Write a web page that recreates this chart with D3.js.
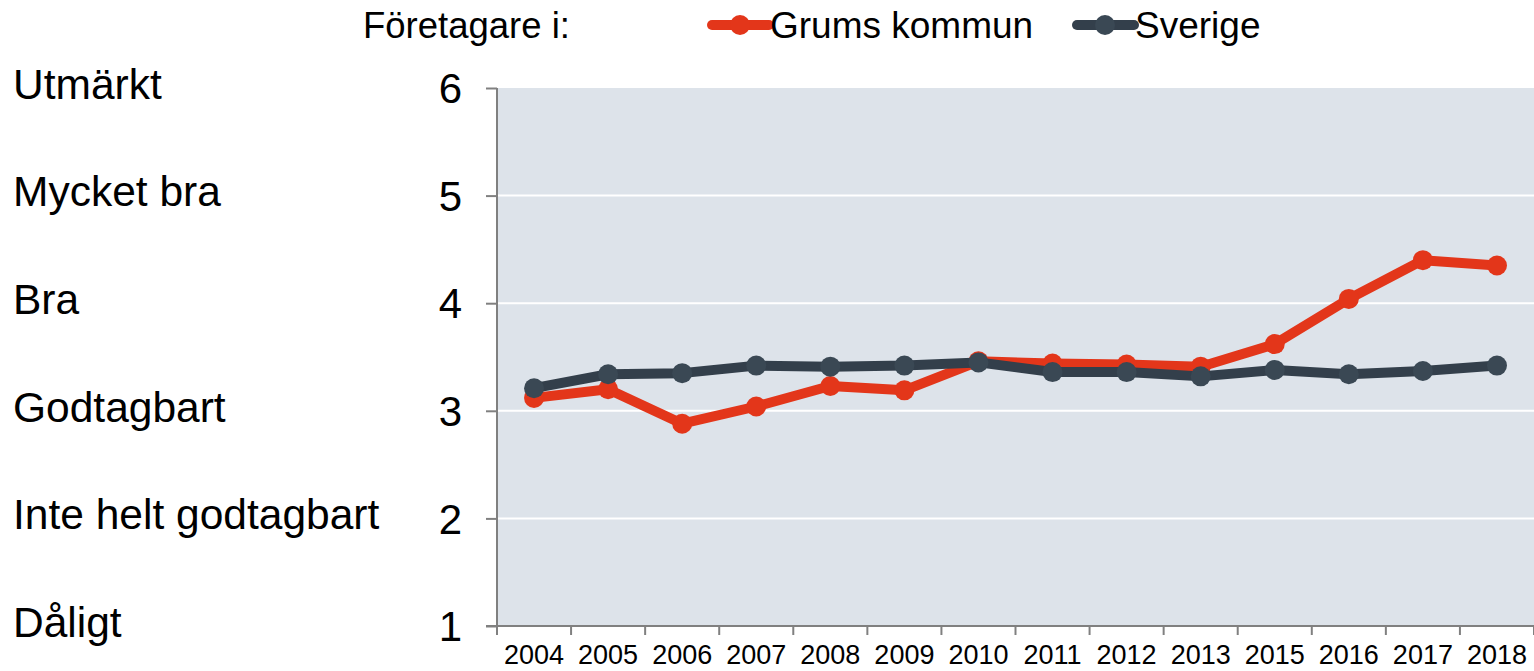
<!DOCTYPE html>
<html>
<head>
<meta charset="utf-8">
<script src="https://cdn.jsdelivr.net/npm/d3@7"></script>
<style>
  html, body { margin: 0; padding: 0; background: #fff; }
  svg { display: block; font-family: "Liberation Sans", Arial, sans-serif; }
</style>
</head>
<body>
<div id="chart"></div>
<script>
// Data
const years = ["2004","2005","2006","2007","2008","2009","2010","2011","2012","2013","2015","2016","2017","2018"];
const grums = [3.12, 3.20, 2.88, 3.04, 3.23, 3.19, 3.46, 3.44, 3.43, 3.41, 3.62, 4.04, 4.40, 4.35];
const sverige = [3.21, 3.34, 3.35, 3.42, 3.41, 3.42, 3.45, 3.36, 3.36, 3.32, 3.38, 3.34, 3.37, 3.42];
const yTicks = [1, 2, 3, 4, 5, 6];
const grades = ["Dåligt", "Inte helt godtagbart", "Godtagbart", "Bra", "Mycket bra", "Utmärkt"];

const W = 1534, H = 671;
const M = { top: 88, right: 0, bottom: 45, left: 497 };
const iW = W - M.left - M.right;
const iH = H - M.top - M.bottom;

const RED = "#e3361a", DARK = "#333f4b", DARK_DOT = "#3a4854";

const svg = d3.select("#chart").append("svg").attr("width", W).attr("height", H);
const g = svg.append("g").attr("transform", `translate(${M.left},${M.top})`);

const x = d3.scaleBand().domain(years).range([0, iW]);
const y = d3.scaleLinear().domain([1, 6]).range([iH, 0]);

// plot background
g.append("rect").attr("width", iW).attr("height", iH).attr("fill", "#dde3ea");

// grid
g.append("g").selectAll("line").data(yTicks.filter(t => t > 1 && t < 6)).join("line")
  .attr("x1", 0).attr("x2", iW).attr("y1", d => y(d)).attr("y2", d => y(d))
  .attr("stroke", "#fff").attr("stroke-width", 2);

// y axis
const ya = g.append("g").call(d3.axisLeft(y).tickValues(yTicks).tickSize(11).tickPadding(24).tickFormat(d3.format("d")));
ya.select(".domain").attr("stroke", "#808080").attr("stroke-width", 2).attr("d", `M0,0V${iH}`);
ya.selectAll(".tick line").attr("stroke", "#808080").attr("stroke-width", 2);
ya.selectAll(".tick text").attr("font-size", "42px").attr("fill", "#000")
  .attr("font-family", "Liberation Sans, Arial, sans-serif").attr("dy", "0.35em");

// x axis
const xa = g.append("g").attr("transform", `translate(0,${iH})`)
  .call(d3.axisBottom(x).tickSize(0).tickPadding(19));
xa.select(".domain").attr("stroke", "#808080").attr("stroke-width", 2).attr("d", `M-11,0H${iW}`);
xa.selectAll(".tick text").attr("font-size", "27px").attr("fill", "#000")
  .attr("font-family", "Liberation Sans, Arial, sans-serif");
g.append("g").selectAll("line").data(d3.range(years.length + 1)).join("line")
  .attr("x1", i => i * x.step()).attr("x2", i => i * x.step())
  .attr("y1", iH).attr("y2", iH + 9)
  .attr("stroke", "#808080").attr("stroke-width", 2);

// grade labels on the far left
svg.append("g").selectAll("text").data(yTicks).join("text")
  .attr("x", 13).attr("y", d => M.top + y(d) - 4).attr("dy", "0.35em")
  .attr("font-size", "42.5px").attr("fill", "#000")
  .text((d, i) => grades[i]);

// series
const line = d3.line().x((d, i) => x(years[i]) + x.bandwidth() / 2).y(d => y(d));
const series = [
  { name: "Grums kommun", values: grums, line: RED, dot: RED },
  { name: "Sverige", values: sverige, line: DARK, dot: DARK_DOT }
];
series.forEach(s => {
  g.append("path").datum(s.values).attr("d", line)
    .attr("fill", "none").attr("stroke", s.line).attr("stroke-width", 10)
    .attr("stroke-linejoin", "round");
  g.append("g").selectAll("circle").data(s.values).join("circle")
    .attr("cx", (d, i) => x(years[i]) + x.bandwidth() / 2)
    .attr("cy", d => y(d)).attr("r", 10).attr("fill", s.dot);
});

// legend
svg.append("text").attr("x", 363).attr("y", 38).attr("font-size", "36.5px").attr("fill", "#000")
  .text("Företagare i:");
const lx = [712, 1077];
series.forEach((s, i) => {
  const lg = svg.append("g").attr("transform", `translate(${lx[i]},25)`);
  lg.append("line").attr("x1", 0).attr("x2", 57).attr("stroke", s.line)
    .attr("stroke-width", 10).attr("stroke-linecap", "round");
  lg.append("circle").attr("cx", 28).attr("r", 10).attr("fill", s.dot);
  lg.append("text").attr("x", 58).attr("y", 13).attr("font-size", "37px").attr("fill", "#000")
    .text(s.name);
});
</script>
</body>
</html>
